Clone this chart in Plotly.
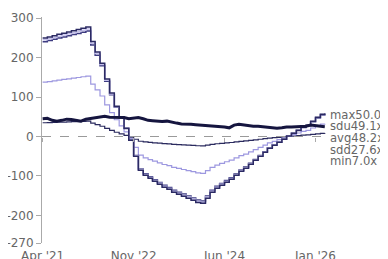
import plotly.graph_objects as go
import pandas as pd

# Monthly dates Apr 2021 .. Mar 2026
dates = pd.date_range("2021-04-01", periods=60, freq="MS")

# Earnings per share (step series) that the multiple bands are built from
eps = [4.99, 5.05, 5.11, 5.18, 5.24, 5.30, 5.36, 5.42, 5.49, 5.55,
       4.82, 4.28, 3.72, 2.91, 2.20, 1.54, 0.98, 0.42, -0.19, -1.00,
       -1.71, -1.96, -2.12, -2.27, -2.42, -2.57, -2.68, -2.83, -2.93, -3.03,
       -3.13, -3.23, -3.34, -3.39, -3.13, -2.83, -2.62, -2.47, -2.32, -2.17,
       -1.97, -1.76, -1.61, -1.41, -1.21, -1.00, -0.80, -0.59, -0.44, -0.29,
       -0.14, 0.02, 0.17, 0.32, 0.47, 0.57, 0.78, 0.98, 1.13, 1.18]

# Price
price = [45, 46, 41, 39, 41, 44, 43, 41, 39, 44,
         46, 48, 50, 51, 49, 49, 49, 48, 45, 46,
         48, 45, 41, 40, 39, 38, 39, 36, 34, 32,
         32, 31, 30, 29, 29, 27, 26, 25, 24, 22,
         29, 31, 29, 27, 26, 26, 25, 24, 22, 21,
         22, 24, 24, 25, 26, 26, 29, 27, 26, 25]

band_names = ["max", "sdu", "avg", "sdd", "min"]
band_multiples = [50.0, 49.1, 48.2, 27.6, 7.0]
band_colors = ["#2b2a63", "#c4c0ec", "#3d3b80", "#9d98e0", "#2a2a5e"]
band_widths = [1.5, 1.5, 1.5, 1.2, 1.2]

tick_dates = ["2021-04-01", "2022-11-01", "2024-06-01", "2026-01-01"]
tick_text = ["Apr '21", "Nov '22", "Jun '24", "Jan '26"]
y_ticks = [300, 200, 100, 0, -100, -200, -270]

FONT = "DejaVu Sans"
GRAY = "#666666"
FS = 12

fig = go.Figure()

# draw in order: min, sdd, avg, sdu, max
for i in [4, 3, 2, 1, 0]:
    fig.add_trace(go.Scatter(
        x=dates, y=[e * band_multiples[i] for e in eps],
        mode="lines", line=dict(color=band_colors[i], width=band_widths[i], shape="hv"),
        showlegend=False, hoverinfo="skip"))

fig.add_trace(go.Scatter(
    x=dates, y=price, mode="lines",
    line=dict(color="#15153f", width=3), showlegend=False))

y_range = [-270, 303]
x_range = ["2021-03-28", "2026-03-15"]
fig.add_hline(y=0, line=dict(color="#9a9a9a", width=1, dash="dash"))

for i, name in enumerate(band_names):
    fig.add_annotation(
        x=1, xref="paper", xanchor="left", xshift=2,
        y=0, yref="y", yshift=21.8 - i * 11.6, yanchor="middle",
        text=f"{name}{band_multiples[i]:.1f}x", showarrow=False, borderpad=0,
        font=dict(family=FONT, size=11.6, color=GRAY))

zero_pos = (0 - y_range[0]) / (y_range[1] - y_range[0])

# page body adds an 8px offset; figure sized to fill the 388x259 window
fig.update_layout(
    width=380, height=251,
    margin=dict(l=34, r=61, t=9, b=16),
    paper_bgcolor="white", plot_bgcolor="white",
    font=dict(family=FONT, size=FS, color=GRAY),
    xaxis=dict(range=x_range, tickvals=tick_dates, ticktext=tick_text, automargin=False,
               showgrid=False, zeroline=False, showline=False,
               ticks="outside", ticklen=2, tickcolor="rgba(0,0,0,0)",
               tickfont=dict(family=FONT, size=FS, color=GRAY)),
    xaxis2=dict(range=x_range, tickvals=tick_dates, overlaying="x",
                anchor="free", position=zero_pos, side="bottom", automargin=False,
                showticklabels=False, showgrid=False, zeroline=False, showline=False,
                ticks="outside", ticklen=4, tickcolor="#aaaaaa", tickwidth=1),
    yaxis=dict(range=y_range, tickvals=y_ticks, ticktext=[str(v) for v in y_ticks],
               automargin=False,
               showgrid=False, zeroline=False, showline=True, linecolor="#aaaaaa", linewidth=1,
               ticks="outside", ticklen=5, tickcolor="#aaaaaa",
               tickfont=dict(family=FONT, size=FS, color=GRAY)),
)
# dummy trace to activate xaxis2
fig.add_trace(go.Scatter(x=[dates[0]], y=[None], xaxis="x2", showlegend=False, hoverinfo="skip"))

fig.write_html("out.html")
